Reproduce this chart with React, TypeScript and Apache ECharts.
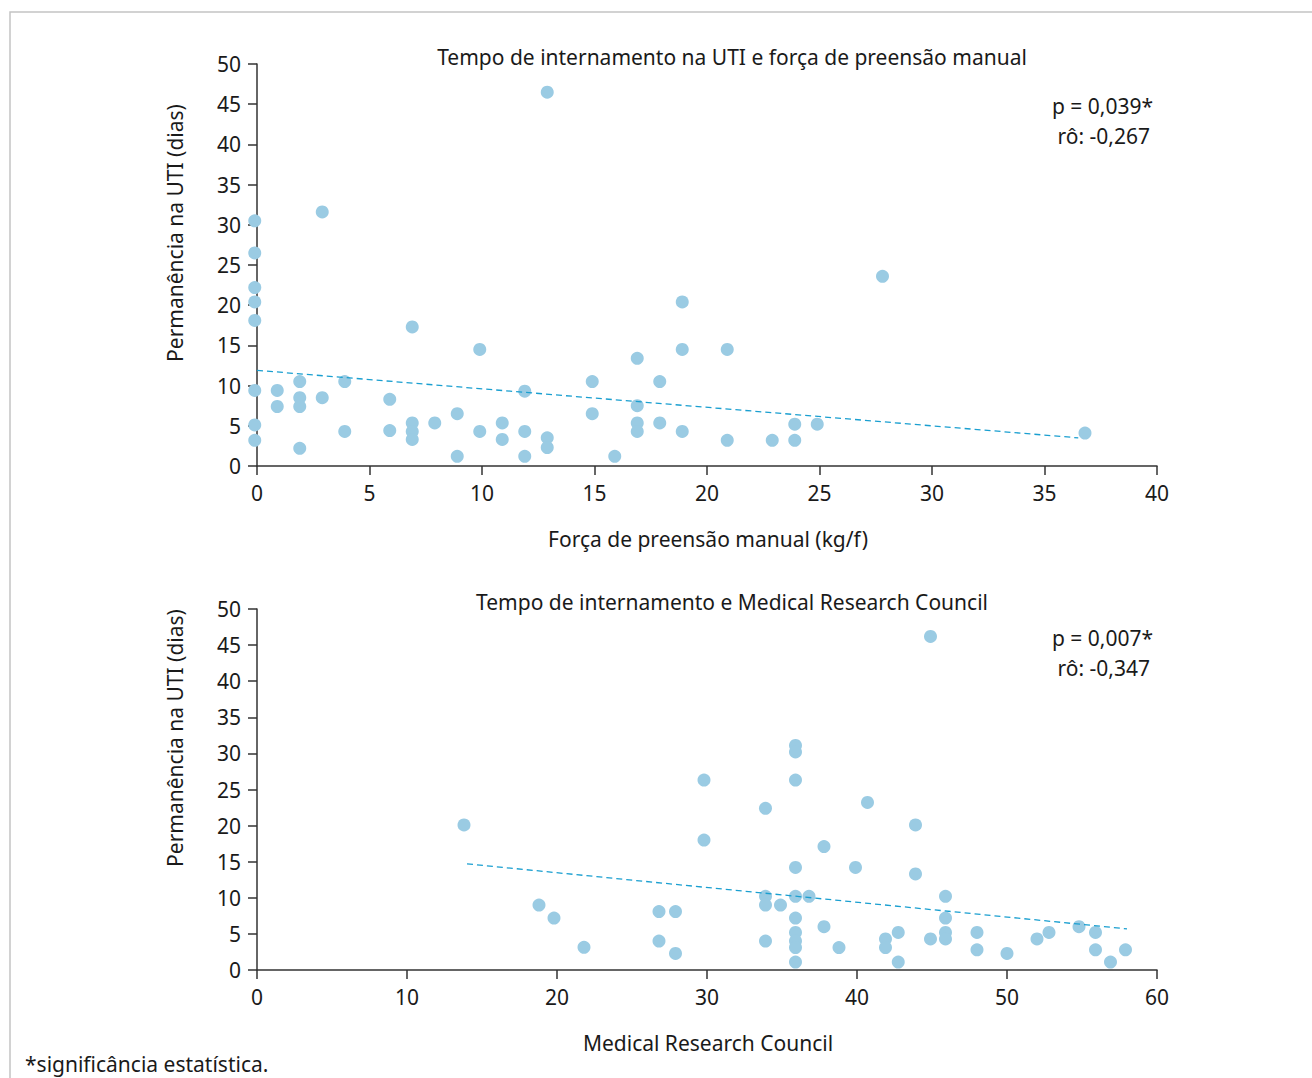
import React, { useEffect, useRef } from "react";
import * as echarts from "echarts";

// Top chart: handgrip strength (kg/f) vs ICU stay (days)
const gripPoints: [number, number][] = [
  [-0.1, 30.5], [-0.1, 26.5], [-0.1, 22.2], [-0.1, 20.4], [-0.1, 18.1], [-0.1, 9.4], [-0.1, 5.1], [-0.1, 3.2],
  [0.9, 9.4], [0.9, 7.4],
  [1.9, 10.5], [1.9, 8.5], [1.9, 7.4], [1.9, 2.2],
  [2.9, 31.6], [2.9, 8.5],
  [3.9, 10.5], [3.9, 4.3],
  [5.9, 8.3], [5.9, 4.4],
  [6.9, 17.3], [6.9, 5.35], [6.9, 4.3], [6.9, 3.3],
  [7.9, 5.35],
  [8.9, 6.5], [8.9, 1.2],
  [9.9, 14.5], [9.9, 4.3],
  [10.9, 5.35], [10.9, 3.3],
  [11.9, 9.3], [11.9, 4.3], [11.9, 1.2],
  [12.9, 46.5], [12.9, 3.5], [12.9, 2.3],
  [14.9, 10.5], [14.9, 6.5],
  [15.9, 1.2],
  [16.9, 13.4], [16.9, 7.5], [16.9, 5.35], [16.9, 4.3],
  [17.9, 10.5], [17.9, 5.35],
  [18.9, 20.4], [18.9, 14.5], [18.9, 4.3],
  [20.9, 14.5], [20.9, 3.2],
  [22.9, 3.2],
  [23.9, 5.2], [23.9, 3.2],
  [24.9, 5.2],
  [27.8, 23.6],
  [36.8, 4.1],
];
const gripTrend: [number, number][] = [[0, 11.9], [36.5, 3.5]];

// Bottom chart: Medical Research Council score vs ICU stay (days)
const mrcPoints: [number, number][] = [
  [13.8, 20.1],
  [18.8, 9.0], [19.8, 7.2], [21.8, 3.15],
  [26.8, 8.1], [26.8, 4.0], [27.9, 8.1], [27.9, 2.3],
  [29.8, 26.3], [29.8, 18.0],
  [33.9, 22.4], [33.9, 10.2], [33.9, 9.0], [33.9, 4.0],
  [34.9, 9.0],
  [35.9, 31.1], [35.9, 30.2], [35.9, 26.3], [35.9, 14.2], [35.9, 10.2], [35.9, 7.2], [35.9, 5.2], [35.9, 4.0], [35.9, 3.1], [35.9, 1.1],
  [36.8, 10.2],
  [37.8, 17.1], [37.8, 6.0],
  [38.8, 3.1],
  [39.9, 14.2],
  [40.7, 23.2],
  [41.9, 4.3], [41.9, 3.1],
  [42.75, 5.2], [42.75, 1.1],
  [43.9, 20.1], [43.9, 13.3],
  [44.9, 46.2], [44.9, 4.3],
  [45.9, 10.2], [45.9, 7.2], [45.9, 5.2], [45.9, 4.3],
  [48, 5.2], [48, 2.8],
  [50, 2.3],
  [52, 4.3], [52.8, 5.2], [54.8, 6.0],
  [55.9, 5.2], [55.9, 2.8],
  [56.9, 1.1], [57.9, 2.8],
];
const mrcTrend: [number, number][] = [[14, 14.7], [58, 5.7]];

const topTitle = "Tempo de internamento na UTI e força de preensão manual";
const bottomTitle = "Tempo de internamento e Medical Research Council";
const topXName = "Força de preensão manual (kg/f)";
const bottomXName = "Medical Research Council";
const yName = "Permanência na UTI (dias)";
const topStats = ["p = 0,039*", "rô: -0,267"];
const bottomStats = ["p = 0,007*", "rô: -0,347"];
const footnote = "*significância estatística.";

const FONT = "'Noto Sans', 'Open Sans', sans-serif";
const FS = 21;
const TXT = "#1a1a1a";
const AX = "#333333";
const DOT = "#9acbe3";
const TREND = "#1a9fd0";

function App() {
  const ref = useRef<HTMLDivElement>(null);
  useEffect(() => {
    if (!ref.current) return;
    const chart = echarts.init(ref.current, null, { renderer: "svg" });
    const axisCommon = {
      axisLine: { show: true, onZero: false, lineStyle: { color: AX, width: 1.5 } },
      axisTick: { show: true, length: 9, lineStyle: { color: AX, width: 1.5 } },
      splitLine: { show: false },
      axisLabel: { color: TXT, fontSize: FS, fontFamily: FONT, margin: 16 },
    };
    const text = (t: string, x: number, y: number, align: string, extra: any = {}) => ({
      type: "text",
      x,
      y,
      ...extra,
      style: {
        text: t,
        fill: TXT,
        font: `${FS}px ${FONT}`,
        textAlign: align,
        textVerticalAlign: "middle",
      },
    });
    chart.setOption({
      animation: false,
      backgroundColor: "#ffffff",
      grid: [
        { left: 257, top: 64, width: 900, height: 402 },
        { left: 257, top: 609, width: 900, height: 361 },
      ],
      xAxis: [
        { type: "value", gridIndex: 0, min: 0, max: 40, interval: 5, ...axisCommon },
        { type: "value", gridIndex: 1, min: 0, max: 60, interval: 10, ...axisCommon },
      ],
      yAxis: [
        { type: "value", gridIndex: 0, min: 0, max: 50, interval: 5, ...axisCommon },
        { type: "value", gridIndex: 1, min: 0, max: 50, interval: 5, ...axisCommon },
      ],
      series: [
        {
          type: "scatter",
          xAxisIndex: 0,
          yAxisIndex: 0,
          data: gripPoints,
          symbolSize: 13,
          itemStyle: { color: DOT, opacity: 1 },
          clip: false,
        },
        {
          type: "line",
          xAxisIndex: 0,
          yAxisIndex: 0,
          data: gripTrend,
          showSymbol: false,
          symbol: "none",
          lineStyle: { color: TREND, width: 1.3, type: [6, 4] },
          z: 3,
        },
        {
          type: "scatter",
          xAxisIndex: 1,
          yAxisIndex: 1,
          data: mrcPoints,
          symbolSize: 13,
          itemStyle: { color: DOT, opacity: 1 },
          clip: false,
        },
        {
          type: "line",
          xAxisIndex: 1,
          yAxisIndex: 1,
          data: mrcTrend,
          showSymbol: false,
          symbol: "none",
          lineStyle: { color: TREND, width: 1.3, type: [6, 4] },
          z: 3,
        },
      ],
      graphic: [
        {
          type: "rect",
          shape: { x: 10, y: 12, width: 1400, height: 1200 },
          style: { fill: "none", stroke: "#c4c4c4", lineWidth: 1.5 },
          z: -10,
        },
        text(topTitle, 732, 57, "center"),
        text(bottomTitle, 732, 602, "center"),
        text(topStats[0], 1153, 106, "right"),
        text(topStats[1], 1150, 136, "right"),
        text(bottomStats[0], 1153, 638, "right"),
        text(bottomStats[1], 1150, 668, "right"),
        text(topXName, 708, 539, "center"),
        text(bottomXName, 708, 1043, "center"),
        text(yName, 175, 233, "center", { rotation: Math.PI / 2 }),
        text(yName, 175, 738, "center", { rotation: Math.PI / 2 }),
        text(footnote, 25, 1064, "left"),
      ],
    });
    return () => chart.dispose();
  }, []);
  return (
    <div
      ref={ref}
      style={{ position: "fixed", left: 0, top: 0, width: 1312, height: 1078, background: "#fff" }}
    />
  );
}

export default App;
